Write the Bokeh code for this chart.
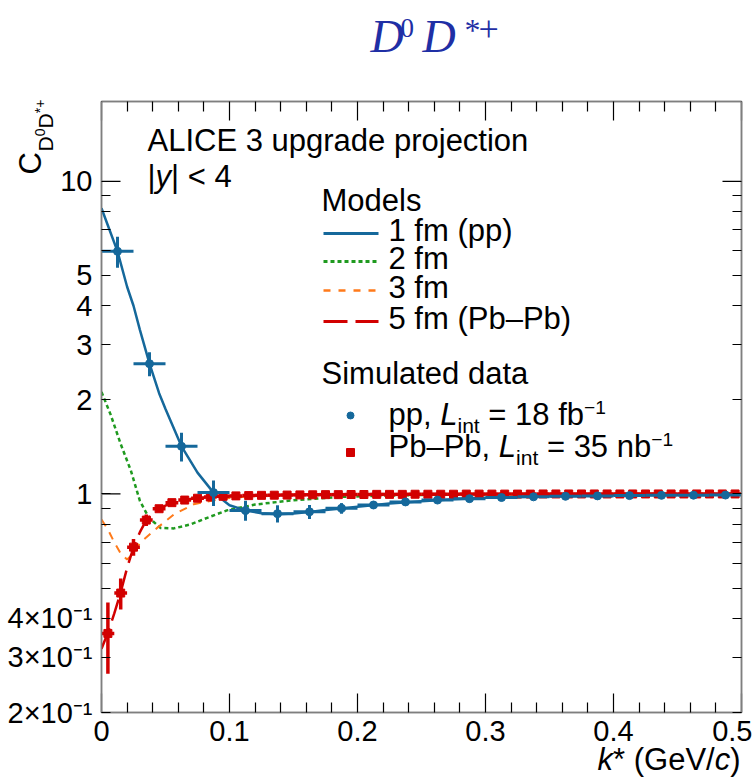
import math

from bokeh.plotting import figure
from bokeh.core.properties import value
from bokeh.models import Range1d, FixedTicker, LogAxis, LinearAxis, CustomJSTickFormatter
from bokeh.embed import file_html
from bokeh.resources import INLINE

# ---------------------------------------------------------------- data
# Model correlation functions C(k*) for several source radii
k_1fm = [0.0, 0.005, 0.0125, 0.02, 0.025, 0.03, 0.0375, 0.045, 0.05, 0.0625, 0.075,
         0.0875, 0.1, 0.1125, 0.125, 0.1375, 0.15, 0.1625, 0.175, 0.1875, 0.2, 0.225,
         0.25, 0.275, 0.3, 0.35, 0.4, 0.45, 0.5]
c_1fm = [8.2, 7.22, 5.97, 4.6, 4.0, 3.35, 2.61, 2.1, 1.87, 1.42, 1.17,
         1.01, 0.92, 0.886, 0.868, 0.862, 0.866, 0.876, 0.888, 0.899, 0.91, 0.932,
         0.948, 0.962, 0.972, 0.984, 0.99, 0.994, 0.996]

k_2fm = [0.0, 0.007, 0.015, 0.023, 0.03, 0.037, 0.046, 0.0565, 0.0695, 0.0826, 0.098,
         0.12, 0.15, 0.19, 0.25, 0.3, 0.4, 0.5]
c_2fm = [2.12, 1.80, 1.445, 1.186, 0.95, 0.84, 0.779, 0.776, 0.799, 0.839, 0.886,
         0.925, 0.955, 0.98, 0.993, 0.997, 0.999, 1.0]

k_3fm = [0.0, 0.005, 0.01, 0.015, 0.02, 0.025, 0.03, 0.0435, 0.0565, 0.072, 0.094,
         0.12, 0.15, 0.2, 0.3, 0.5]
c_3fm = [0.829, 0.77, 0.70, 0.645, 0.617, 0.645, 0.697, 0.779, 0.86, 0.927, 0.966,
         0.985, 0.994, 0.998, 1.0, 1.0]

k_5fm = [0.0, 0.005, 0.01, 0.015, 0.02, 0.025, 0.03, 0.035, 0.045, 0.055, 0.065,
         0.075, 0.085, 0.1, 0.125, 0.15, 0.2, 0.3, 0.5]
c_5fm = [0.32, 0.36, 0.415, 0.485, 0.58, 0.675, 0.755, 0.825, 0.897, 0.938, 0.958,
         0.97, 0.978, 0.986, 0.992, 0.995, 0.998, 1.0, 1.0]

model_labels = ["1 fm (pp)", "2 fm", "3 fm", "5 fm (Pb\u2013Pb)"]

# Simulated pp data (bin width 0.025 GeV/c)
k_pp = [0.0125, 0.0375, 0.0625, 0.0875, 0.1125, 0.1375, 0.1625, 0.1875, 0.2125, 0.2375,
        0.2625, 0.2875, 0.3125, 0.3375, 0.3625, 0.3875, 0.4125, 0.4375, 0.4625, 0.4875]
c_pp = [5.97, 2.61, 1.42, 1.01, 0.886, 0.865, 0.877, 0.900, 0.922, 0.943,
        0.956, 0.966, 0.974, 0.979, 0.983, 0.986, 0.988, 0.990, 0.991, 0.992]
e_pp = [0.68, 0.23, 0.15, 0.095, 0.065, 0.055, 0.045, 0.035, 0.027, 0.021,
        0.017, 0.014, 0.012, 0.010, 0.009, 0.008, 0.007, 0.006, 0.006, 0.005]
half_bin_pp = 0.0125

# Simulated Pb-Pb data (bin width 0.01 GeV/c)
k_pbpb = [0.005, 0.015, 0.025, 0.035, 0.045, 0.055, 0.065, 0.075, 0.085, 0.095,
          0.105, 0.115, 0.125, 0.135, 0.145, 0.155, 0.165, 0.175, 0.185, 0.195,
          0.205, 0.215, 0.225, 0.235, 0.245, 0.255, 0.265, 0.275, 0.285, 0.295,
          0.305, 0.315, 0.325, 0.335, 0.345, 0.355, 0.365, 0.375, 0.385, 0.395,
          0.405, 0.415, 0.425, 0.435, 0.445, 0.455, 0.465, 0.475, 0.485, 0.495]
c_pbpb = [0.358, 0.482, 0.676, 0.825, 0.897, 0.938, 0.956, 0.969, 0.978, 0.983,
          0.986, 0.988, 0.990, 0.991, 0.992, 0.993, 0.994, 0.995, 0.995, 0.996,
          0.996, 0.997, 0.997, 0.997, 0.998, 0.998, 0.998, 0.998, 0.999, 0.999,
          0.999, 0.999, 0.999, 0.999, 1.0, 1.0, 1.0, 1.0, 1.0, 1.0,
          1.0, 1.0, 1.0, 1.0, 1.0, 1.0, 1.0, 1.0, 1.0, 1.0]
e_pbpb = [0.092, 0.055, 0.042, 0.035, 0.02, 0.014, 0.011, 0.009, 0.008, 0.007,
          0.006, 0.006, 0.006, 0.005, 0.005, 0.005, 0.005, 0.005, 0.005, 0.005,
          0.005, 0.005, 0.005, 0.005, 0.005, 0.005, 0.005, 0.005, 0.005, 0.005,
          0.005, 0.005, 0.005, 0.005, 0.005, 0.005, 0.005, 0.005, 0.005, 0.005,
          0.005, 0.005, 0.005, 0.005, 0.005, 0.005, 0.005, 0.005, 0.005, 0.005]
half_bin_pbpb = 0.005

# Axis ticks
x_major = [0.0, 0.1, 0.2, 0.3, 0.4, 0.5]
x_minor = [0.02, 0.04, 0.06, 0.08, 0.12, 0.14, 0.16, 0.18, 0.22, 0.24, 0.26, 0.28,
           0.32, 0.34, 0.36, 0.38, 0.42, 0.44, 0.46, 0.48]
y_labelled = [0.2, 0.3, 0.4, 1.0, 2.0, 3.0, 4.0, 5.0, 10.0]
y_labels = ["2\u00d710\u207b\u00b9", "3\u00d710\u207b\u00b9", "4\u00d710\u207b\u00b9",
            "1", "2", "3", "4", "5", "10"]
y_minor = [0.5, 0.6, 0.7, 0.8, 0.9, 6.0, 7.0, 8.0, 9.0]
y_decades = [1.0, 10.0]

# ---------------------------------------------------------------- layout
W, H = 752, 778
FL, FR, FT, FB = 101, 741, 101, 712
K_RANGE = (0.0, 0.5)
C_RANGE = (0.2, 18.0)

BLUE = "#15689b"
GREEN = "#1f9a1f"
ORANGE = "#ff7a1a"
RED = "#d20000"
TITLE_BLUE = "#1f2fa5"
FONT = "Liberation Sans"
SERIF = "Liberation Serif"
FS = 31
BASELINE_SHIFT = 0.385  # em offset between requested anchor and drawn baseline


def kx(px):
    """canvas x pixel -> k* value"""
    return K_RANGE[0] + (px - FL) / (FR - FL) * (K_RANGE[1] - K_RANGE[0])


def cy(py):
    """canvas y pixel -> C value on the log axis"""
    l0, l1 = math.log10(C_RANGE[0]), math.log10(C_RANGE[1])
    return 10 ** (l0 + (FB - py) / (FB - FT) * (l1 - l0))


p = figure(width=W, height=H, x_range=Range1d(*K_RANGE), y_range=Range1d(*C_RANGE),
           y_axis_type="log", output_backend="svg", toolbar_location=None,
           min_border_left=FL, min_border_right=W - FR, min_border_top=FT,
           min_border_bottom=H - FB, background_fill_color="white",
           border_fill_color="white")
p.grid.visible = False
p.outline_line_color = "#7f7f7f"
p.outline_line_width = 1.5


def style_axis(ax, ticker, major_len, minor_len, show_labels):
    ax.ticker = ticker
    ax.axis_line_color = "#7f7f7f"
    ax.axis_line_width = 1.5
    ax.major_tick_in = major_len
    ax.major_tick_out = 0
    ax.minor_tick_in = minor_len
    ax.minor_tick_out = 0
    ax.major_tick_line_color = "black"
    ax.minor_tick_line_color = "black"
    ax.major_tick_line_width = 1.2
    ax.minor_tick_line_width = 1.2
    ax.major_label_text_font = FONT
    ax.major_label_text_font_size = "29px"
    ax.major_label_text_color = "black"
    if not show_labels:
        ax.formatter = CustomJSTickFormatter(code="return ''")


xb = p.xaxis[0]
style_axis(xb, FixedTicker(ticks=x_major, minor_ticks=x_minor), 19, 10, True)
xb.major_label_overrides = {0.0: "0"}
xb.major_label_standoff = 8

yl = p.yaxis[0]
style_axis(yl, FixedTicker(ticks=y_labelled, minor_ticks=y_minor), 9, 9, True)
yl.major_label_overrides = dict(zip(y_labelled, y_labels))
yl.major_label_standoff = 9

xt = LinearAxis()
style_axis(xt, FixedTicker(ticks=x_major, minor_ticks=x_minor), 19, 10, False)
p.add_layout(xt, "above")

yr = LogAxis()
style_axis(yr, FixedTicker(ticks=y_labelled, minor_ticks=y_minor), 9, 9, False)
p.add_layout(yr, "right")

# longer ticks at the decades on both vertical axes
tick_len = kx(FL + 19) - kx(FL)
p.segment(x0=[K_RANGE[0]] * len(y_decades), x1=[K_RANGE[0] + tick_len] * len(y_decades),
          y0=y_decades, y1=y_decades, line_color="black", line_width=1.2)
p.segment(x0=[K_RANGE[1] - tick_len] * len(y_decades), x1=[K_RANGE[1]] * len(y_decades),
          y0=y_decades, y1=y_decades, line_color="black", line_width=1.2)

# ---------------------------------------------------------------- model curves
p.line(k_2fm, c_2fm, line_color=GREEN, line_width=2.5, line_dash="4 3")
p.line(k_3fm, c_3fm, line_color=ORANGE, line_width=2, line_dash="8 7")
p.line(k_5fm, c_5fm, line_color=RED, line_width=2.5, line_dash="22 8")
p.line(k_1fm, c_1fm, line_color=BLUE, line_width=2.5)

# ---------------------------------------------------------------- simulated data
pb = dict(k=k_pbpb, c=c_pbpb,
          lo=[c - e for c, e in zip(c_pbpb, e_pbpb)],
          hi=[c + e for c, e in zip(c_pbpb, e_pbpb)],
          kl=[k - half_bin_pbpb for k in k_pbpb],
          kr=[k + half_bin_pbpb for k in k_pbpb])
p.segment(x0="k", x1="k", y0="lo", y1="hi", source=pb, line_color=RED, line_width=3.5)
p.segment(x0="kl", x1="kr", y0="c", y1="c", source=pb, line_color=RED, line_width=3.5)
p.scatter("k", "c", source=pb, marker="square", size=8, fill_color=RED, line_color=RED)

pp = dict(k=k_pp, c=c_pp,
          lo=[c - e for c, e in zip(c_pp, e_pp)],
          hi=[c + e for c, e in zip(c_pp, e_pp)],
          kl=[k - half_bin_pp for k in k_pp],
          kr=[k + half_bin_pp for k in k_pp])
p.segment(x0="k", x1="k", y0="lo", y1="hi", source=pp, line_color=BLUE, line_width=3)
p.segment(x0="kl", x1="kr", y0="c", y1="c", source=pp, line_color=BLUE, line_width=3)
p.scatter("k", "c", source=pp, marker="circle", size=8, fill_color=BLUE, line_color=BLUE)

# ---------------------------------------------------------------- texts
ADV = {' ': 0.278, ',': 0.278, '.': 0.278, '|': 0.26, '<': 0.584, '=': 0.584,
       '(': 0.333, ')': 0.333, '/': 0.278, '*': 0.389, '\u2013': 0.556, '\u2212': 0.584,
       '+': 0.584, 'a': 0.556, 'b': 0.556, 'c': 0.5, 'd': 0.556, 'e': 0.556, 'f': 0.278,
       'g': 0.556, 'i': 0.222, 'j': 0.222, 'k': 0.5, 'l': 0.222, 'm': 0.833, 'n': 0.556,
       'o': 0.556, 'p': 0.556, 'r': 0.333, 's': 0.5, 't': 0.278, 'u': 0.556, 'y': 0.5,
       'A': 0.667, 'C': 0.722, 'D': 0.722, 'E': 0.667, 'G': 0.778, 'I': 0.278,
       'L': 0.556, 'M': 0.833, 'P': 0.667, 'S': 0.667, 'V': 0.667}


def width(s, size):
    return sum(ADV.get(ch, 0.556) for ch in s) * size


def draw_text(x, y, text, size, color="black", italic=False, font=FONT, angle=0.0):
    """one text piece whose baseline starts at canvas pixel (x, y)"""
    shift = BASELINE_SHIFT * size
    if angle == 0.0:
        y -= shift
    else:
        x -= shift
    p.text(x=[kx(x)], y=[cy(y)], text=[text], text_font=value(font),
           text_font_size=value(f"{size:.1f}px"),
           text_font_style=value("italic" if italic else "normal"),
           text_color=color, text_align="left", text_baseline="alphabetic",
           angle=angle, level="overlay")


def put(parts, x, base, size=FS, color="black", align="left"):
    """parts: (text, italic, scale, vertical shift in px; positive = down)"""
    if align == "right":
        x -= sum(width(t, size * sc) for t, _, sc, _ in parts)
    for text, italic, sc, dy in parts:
        stripped = text.lstrip(" ")
        lead = width(text[:len(text) - len(stripped)], size * sc)
        draw_text(x + lead, base + dy, stripped.rstrip(" "), size * sc, color, italic)
        x += width(text, size * sc)


put([("ALICE 3 upgrade projection", False, 1, 0)], 147, 152)
put([("|", False, 1, 0), ("y", True, 1, 0), ("| < 4", False, 1, 0)], 147, 188)

# legend: models
put([("Models", False, 1, 0)], 321, 212)
model_styles = [(BLUE, 3, None), (GREEN, 3, "4 3"), (ORANGE, 2.5, "7 8"), (RED, 3, "24 8")]
row_y = [233, 261, 290, 321]
for label, (col, lw, dash), ry in zip(model_labels, model_styles, row_y):
    kw = dict(line_color=col, line_width=lw)
    if dash:
        kw["line_dash"] = dash
    p.line([kx(323), kx(378)], [cy(ry), cy(ry)], **kw)
    put([(label, False, 1, 0)], 388, ry + 9)

# legend: simulated data
put([("Simulated data", False, 1, 0)], 321, 385)
p.scatter([kx(350)], [cy(415)], marker="circle", size=7, fill_color=BLUE, line_color=BLUE)
put([("pp, ", False, 1, 0), ("L", True, 1, 0), ("int", False, 0.68, 7),
     (" = 18 fb", False, 1, 0), ("\u22121", False, 0.62, -12)], 388, 426)
p.scatter([kx(350)], [cy(452)], marker="square", size=8, fill_color=RED, line_color=RED)
put([("Pb\u2013Pb, ", False, 1, 0), ("L", True, 1, 0), ("int", False, 0.68, 7),
     (" = 35 nb", False, 1, 0), ("\u22121", False, 0.62, -12)], 388, 458)

# x-axis title, right-aligned to the frame
put([("k", True, 1, 0), ("* (GeV/", False, 1, 0), ("c", True, 1, 0), (")", False, 1, 0)],
    740, 771, size=31, align="right")

# y-axis title, rotated (reads bottom to top)
YT = [("C", 31, 42, 174), ("D", 21, 53, 151), ("0", 14, 45, 135.8),
      ("D", 21, 53, 128), ("*+", 14, 45, 112.8)]
for text, size, bx, by in YT:
    draw_text(bx, by, text, size, angle=math.pi / 2)

# plot heading D0 D*+
HEAD = [("D", 46, 370, 54, True), ("0", 27, 400, 38, False),
        ("D", 46, 422, 54, True), ("*", 32, 464, 42, False), ("+", 36, 478, 42, False)]
for text, size, hx, hy, it in HEAD:
    draw_text(hx, hy, text, size, TITLE_BLUE, italic=it, font=SERIF)

open("out.html", "w").write(file_html(p, INLINE))
